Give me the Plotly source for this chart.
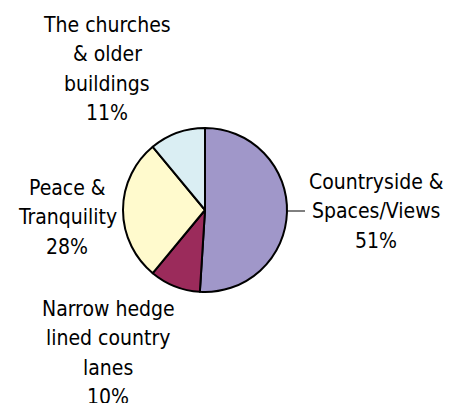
import plotly.graph_objects as go

categories = ["Countryside &<br>Spaces/Views", "Narrow hedge<br>lined country<br>lanes",
              "Peace &<br>Tranquility", "The churches<br>& older<br>buildings"]
values = [51, 10, 28, 11]
colors = ["#A097C9", "#9B2B5B", "#FFFACD", "#DAEEF3"]
# label positions (pixel): center x, y of first line
label_px = [(376, 182), (108, 309), (67, 188), (107, 25)]
LINE_GAP = 29.3

W, H = 455, 403
FONT = "DejaVu Sans Condensed, DejaVu Sans, sans-serif"

fig = go.Figure(go.Pie(
    values=values,
    labels=categories,
    sort=False,
    direction="clockwise",
    rotation=0,
    marker=dict(colors=colors, line=dict(color="black", width=2)),
    textinfo="none",
    hoverinfo="label+percent",
    showlegend=False,
    domain=dict(x=[123 / W, 287 / W], y=[1 - 292 / H, 1 - 128 / H]),
))

total = sum(values)
for cat, v, (px, py) in zip(categories, values, label_px):
    lines = cat.split("<br>") + [f"{round(100 * v / total)}%"]
    for i, ln in enumerate(lines):
        fig.add_annotation(
            x=px / W, y=1 - (py + i * LINE_GAP) / H, xref="paper", yref="paper",
            text=ln, showarrow=False, xanchor="center", yanchor="middle",
            font=dict(family=FONT, size=21, color="black"), align="center",
        )

fig.add_shape(type="line", xref="paper", yref="paper",
              x0=287 / W, x1=305 / W, y0=1 - 211 / H, y1=1 - 211 / H,
              line=dict(color="black", width=1))

fig.update_layout(width=W, height=H, margin=dict(l=0, r=0, t=0, b=0),
                  paper_bgcolor="white", plot_bgcolor="white")
fig.write_html("out.html", config={"displayModeBar": False},
               post_script="document.body.style.margin='0';")
